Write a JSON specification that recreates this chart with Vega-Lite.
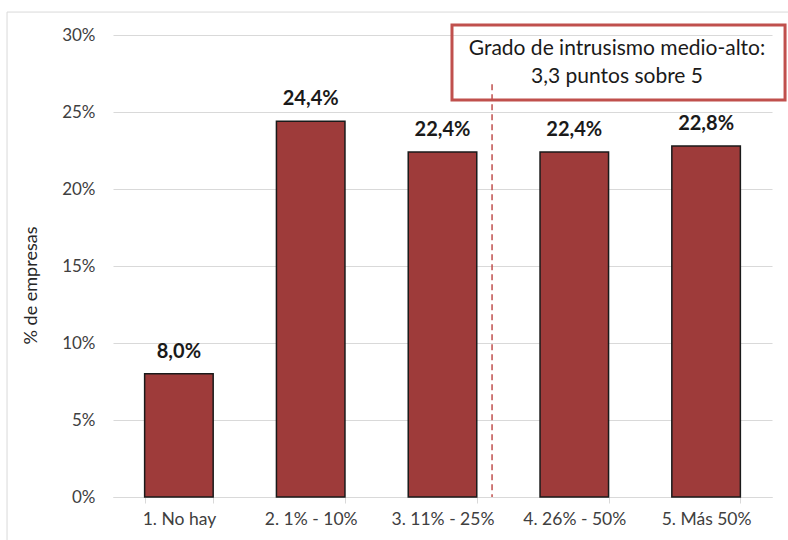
{
  "$schema": "https://vega.github.io/schema/vega-lite/v6.json",
  "width": 659,
  "height": 462,
  "autosize": {"type": "none"},
  "padding": {"left": 113, "top": 35, "right": 16, "bottom": 43},
  "background": "white",
  "config": {
    "locale": {"number": {"decimal": ",", "thousands": ".", "grouping": [3], "currency": ["", " €"]}},
    "font": "Lato",
    "view": {"stroke": null},
    "axisY": {"titleFontSize": 18, "titleFontWeight": "normal", "titleColor": "#262626"}
  },
  "layer": [
    {
      "data": {"values": [
        {"cat": "1. No hay", "pct": 0.080},
        {"cat": "2. 1% - 10%", "pct": 0.244},
        {"cat": "3. 11% - 25%", "pct": 0.224},
        {"cat": "4. 26% - 50%", "pct": 0.224},
        {"cat": "5. Más 50%", "pct": 0.228}
      ]},
      "encoding": {
        "x": {
          "field": "cat", "type": "nominal", "sort": null,
          "scale": {"paddingInner": 0.48, "paddingOuter": 0.24},
          "axis": {
            "title": null, "labelAngle": 0, "labelFontSize": 17.5, "labelColor": "#404040",
            "domainColor": "#D9D9D9", "tickColor": "#D9D9D9", "tickBand": "extent",
            "tickSize": 6, "labelPadding": 7, "grid": false
          }
        },
        "y": {
          "field": "pct", "type": "quantitative",
          "scale": {"domain": [0, 0.3], "nice": false},
          "axis": {
            "format": ".0%", "values": [0, 0.05, 0.1, 0.15, 0.2, 0.25, 0.3],
            "title": "% de empresas", "ticks": false, "domain": false,
            "gridColor": "#D9D9D9", "labelPadding": 18, "labelFontSize": 17, "labelColor": "#404040",
            "titleFontSize": 18, "titleFontWeight": "normal", "titleColor": "#262626",
            "titleX": -73, "titleY": 250
          }
        }
      },
      "layer": [
        {"mark": {"type": "bar", "color": "#9E3B3A", "stroke": "#1a1a1a", "strokeWidth": 1.5}},
        {
          "mark": {"type": "text", "fontWeight": "bold", "fontSize": 20, "dy": -16, "baseline": "alphabetic", "color": "#1a1a1a"},
          "encoding": {"text": {"field": "pct", "type": "quantitative", "format": ".1%"}}
        }
      ]
    },
    {
      "data": {"values": [{"note": "Grado de intrusismo medio-alto:\n3,3 puntos sobre 5"}]},
      "layer": [
        {
          "mark": {"type": "rect", "fill": null, "stroke": "#D9D9D9", "strokeWidth": 1},
          "encoding": {
            "x": {"datum": -0.804, "type": "quantitative", "scale": {"domain": [0, 5], "nice": false, "zero": false}, "axis": null},
            "x2": {"datum": 5.3},
            "y": {"datum": 0.3149, "type": "quantitative"},
            "y2": {"datum": -0.031}
          }
        },
        {
          "mark": {"type": "rect", "fill": null, "stroke": "#C0504D", "strokeWidth": 3},
          "encoding": {
            "x": {"datum": 2.572, "type": "quantitative", "axis": null},
            "x2": {"datum": 5.099},
            "y": {"datum": 0.3065, "type": "quantitative"},
            "y2": {"datum": 0.2578}
          }
        },
        {
          "mark": {"type": "rule", "color": "#C0504D", "strokeDash": [6, 4], "strokeWidth": 1.5},
          "encoding": {
            "x": {"datum": 2.876, "type": "quantitative", "axis": null},
            "y": {"datum": 0.268, "type": "quantitative"},
            "y2": {"datum": 0}
          }
        },
        {
          "mark": {"type": "text", "fontSize": 21, "align": "center", "baseline": "middle", "lineBreak": "\n", "lineHeight": 28, "color": "#1a1a1a"},
          "encoding": {
            "x": {"datum": 3.824, "type": "quantitative", "axis": null},
            "y": {"datum": 0.2909, "type": "quantitative"},
            "text": {"field": "note"}
          }
        }
      ]
    }
  ],
  "resolve": {"scale": {"x": "independent"}}
}
